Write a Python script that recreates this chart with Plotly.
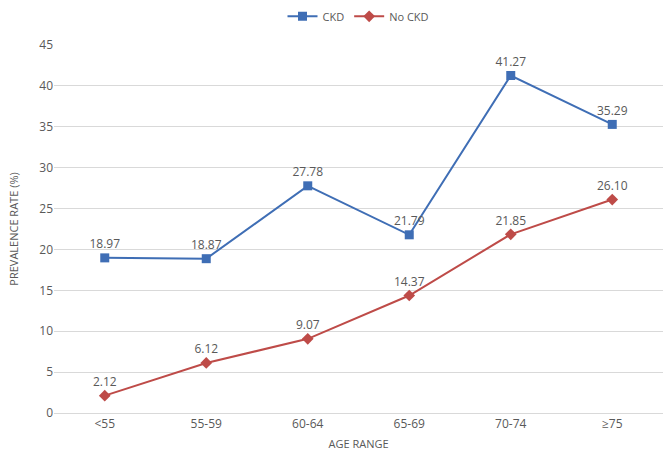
import plotly.graph_objs as go

age_ranges = ['<55', '55-59', '60-64', '65-69', '70-74', '≥75']
ckd = [18.97, 18.87, 27.78, 21.79, 41.27, 35.29]
no_ckd = [2.12, 6.12, 9.07, 14.37, 21.85, 26.10]

blue = '#3F6EB5'
red = '#BE4B48'

fig = go.Figure()

# CKD series
fig.add_trace(
    go.Scatter(
        x=age_ranges,
        y=ckd,
        mode='lines+markers+text',
        name='CKD',
        line=dict(color=blue, width=2),
        marker=dict(symbol='square', color=blue, size=9),
        text=[f'{v:.2f}' for v in ckd],
        textposition='top center',
        textfont=dict(color='#595959', size=12),
    )
)

# No CKD series
fig.add_trace(
    go.Scatter(
        x=age_ranges,
        y=no_ckd,
        mode='lines+markers+text',
        name='No CKD',
        line=dict(color=red, width=2),
        marker=dict(symbol='diamond', color=red, size=9),
        text=[f'{v:.2f}' for v in no_ckd],
        textposition='top center',
        textfont=dict(color='#595959', size=12),
    )
)

fig.update_layout(
    width=666,
    height=462,
    margin=dict(l=54, r=3, t=44, b=49),
    plot_bgcolor='white',
    paper_bgcolor='white',
    font=dict(family='Open Sans, DejaVu Sans, sans-serif', size=12, color='#595959'),
    showlegend=True,
    legend=dict(orientation='h', x=0.5, xanchor='center', y=1.075, yanchor='middle',
                font=dict(size=11, color='#595959')),
    xaxis=dict(
        title=dict(text='AGE RANGE', font=dict(size=11), standoff=8),
        range=[-0.5, 5.5],
        showgrid=False,
        showline=True,
        linecolor='#D9D9D9',
        ticks='',
        tickfont=dict(size=12),
        automargin=False,
    ),
    yaxis=dict(
        title=dict(text='PREVALENCE RATE (%)', font=dict(size=11), standoff=18),
        range=[0, 45],
        dtick=5,
        showgrid=True,
        gridcolor='#D9D9D9',
        zeroline=False,
        ticks='',
        tickfont=dict(size=12),
        automargin=False,
    ),
)

fig.write_html('out.html', config={'displayModeBar': False},
               post_script="document.body.style.margin='0';")
